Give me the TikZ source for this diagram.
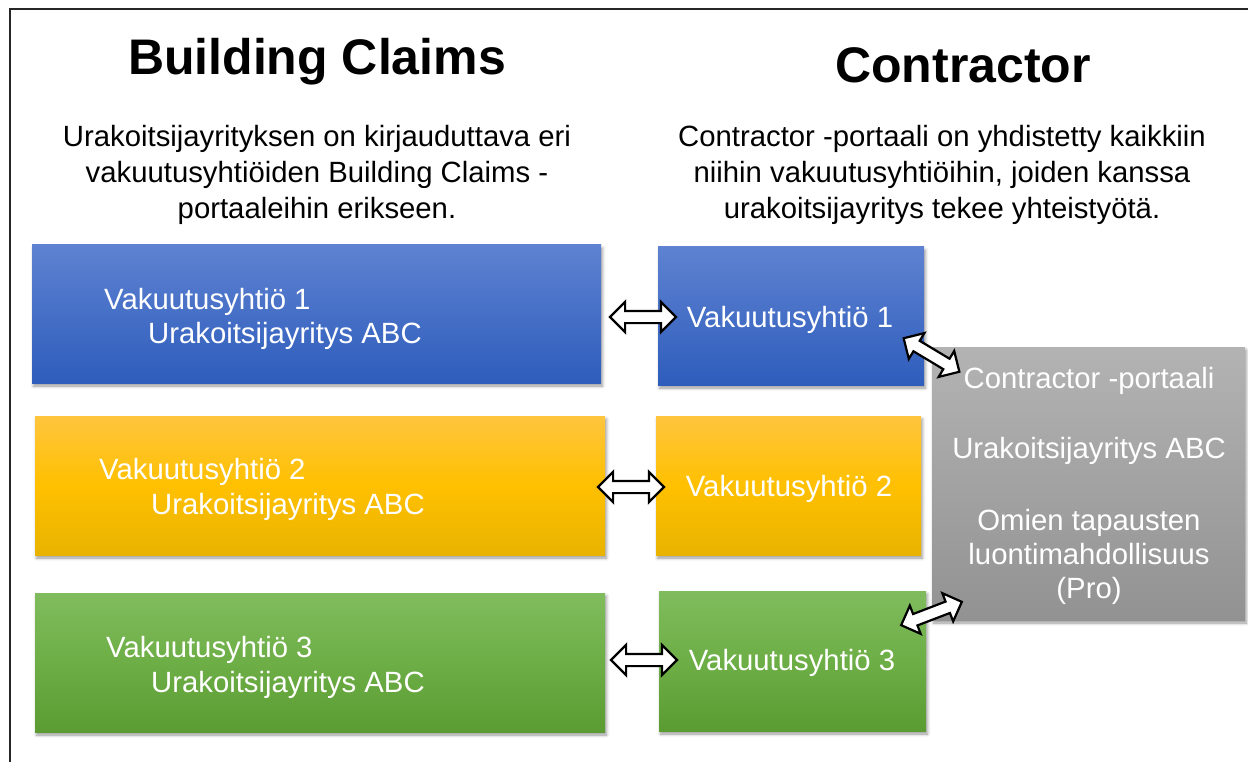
\documentclass[tikz,border=0pt]{standalone}
\usepackage{fontspec}
\setmainfont{Liberation Sans}
\usetikzlibrary{shapes.arrows,shadows.blur}
\definecolor{bTop}{HTML}{5E82D1}
\definecolor{bBot}{HTML}{2E5DBC}
\definecolor{yTop}{HTML}{FFC53E}
\definecolor{yMid}{HTML}{FFC000}
\definecolor{yBot}{HTML}{E8B300}
\definecolor{gTop}{HTML}{80BC5D}
\definecolor{gMid}{HTML}{6DAE46}
\definecolor{gBot}{HTML}{5A9B32}
\definecolor{grTop}{HTML}{B3B3B3}
\definecolor{grBot}{HTML}{929292}
\newcommand\myfs{\fontsize{29.3}{35}\selectfont}
\newcommand\mytitle{\fontsize{50}{56}\selectfont\bfseries}
\tikzset{
  box/.style={rectangle, inner sep=0pt, text=white, font=\myfs,
    blur shadow={shadow xshift=1.5pt, shadow yshift=-3pt, shadow blur radius=3pt, shadow opacity=40}},
  bluebox/.style={box, top color=bTop, bottom color=bBot},
  yellowbox/.style={box, top color=yTop, bottom color=yBot, middle color=yMid},
  greenbox/.style={box, top color=gTop, bottom color=gBot, middle color=gMid},
  graybox/.style={box, top color=grTop, bottom color=grBot},
  lbl/.style={inner sep=0pt, font=\myfs},
  wlbl/.style={lbl, text=white},
  ttl/.style={inner sep=0pt, anchor=base, font=\mytitle},
  dblarr/.style={double arrow, draw=black, fill=white, line width=2.2pt,
    double arrow head extend=9pt, inner xsep=0pt, inner ysep=5pt,
    minimum height=66pt}
}
\begin{document}
\begin{tikzpicture}[x=1pt,y=-1pt]
\useasboundingbox (0,0) rectangle (1248,762);
\draw[line width=1.5pt, black!85] (1248,9) -- (10,9) -- (10,762);

% titles
\node[ttl] (t1) at (317,75) {Building Claims};
\node[ttl] (t2) at (963,83) {Contractor};

% body texts
\node[lbl, anchor=base] (l1) at (317,147) {Urakoitsijayrityksen on kirjauduttava eri};
\node[lbl, anchor=base] (l2) at (317,183) {vakuutusyhtiöiden Building Claims -};
\node[lbl, anchor=base] (l3) at (317,219) {portaaleihin erikseen.};
\node[lbl, anchor=base] (r1) at (942,147) {Contractor -portaali on yhdistetty kaikkiin};
\node[lbl, anchor=base] (r2) at (942,183) {niihin vakuutusyhtiöihin, joiden kanssa};
\node[lbl, anchor=base] (r3) at (942,219) {urakoitsijayritys tekee yhteistyötä.};

% left boxes
\node[bluebox, minimum width=569pt, minimum height=138pt] (lb1) at (316.5,314) {};
\node[yellowbox, minimum width=570pt, minimum height=139pt] (lb2) at (320,485.5) {};
\node[greenbox, minimum width=570pt, minimum height=139pt] (lb3) at (320,662.5) {};
\node[wlbl, anchor=base west] (lb1a) at (104,309) {Vakuutusyhtiö 1};
\node[wlbl, anchor=base west] (lb1b) at (148,343) {Urakoitsijayritys ABC};
\node[wlbl, anchor=base west] (lb2a) at (99,479) {Vakuutusyhtiö 2};
\node[wlbl, anchor=base west] (lb2b) at (151,514) {Urakoitsijayritys ABC};
\node[wlbl, anchor=base west] (lb3a) at (106,657) {Vakuutusyhtiö 3};
\node[wlbl, anchor=base west] (lb3b) at (151,692) {Urakoitsijayritys ABC};

% right boxes
\node[bluebox, minimum width=266pt, minimum height=138pt] (rb1) at (791,316) {};
\node[yellowbox, minimum width=265pt, minimum height=139pt] (rb2) at (788.5,485.5) {};
\node[greenbox, minimum width=267pt, minimum height=140pt] (rb3) at (792.5,661) {};
\node[wlbl, anchor=base] (rb1t) at (790,327) {Vakuutusyhtiö 1};
\node[wlbl, anchor=base] (rb2t) at (789,496) {Vakuutusyhtiö 2};
\node[wlbl, anchor=base] (rb3t) at (792,670) {Vakuutusyhtiö 3};

% portal box
\node[graybox, minimum width=313pt, minimum height=273pt] (gp) at (1088.5,483.5) {};
\node[wlbl, anchor=base] (gp1) at (1089,388) {Contractor -portaali};
\node[wlbl, anchor=base] (gp2) at (1089,458) {Urakoitsijayritys ABC};
\node[wlbl, anchor=base] (gp3) at (1089,530) {Omien tapausten};
\node[wlbl, anchor=base] (gp4) at (1089,564) {luontimahdollisuus};
\node[wlbl, anchor=base] (gp5) at (1089,598) {(Pro)};

% block arrows
\node[dblarr] (a1) at (643,317) {};
\node[dblarr] (a2) at (631,487) {};
\node[dblarr] (a3) at (644,660) {};
\node[dblarr, rotate=-31, minimum height=65pt] (a4) at (931.5,355) {};
\node[dblarr, rotate=21, minimum height=65pt] (a5) at (931.5,613.5) {};
\end{tikzpicture}
\end{document}
